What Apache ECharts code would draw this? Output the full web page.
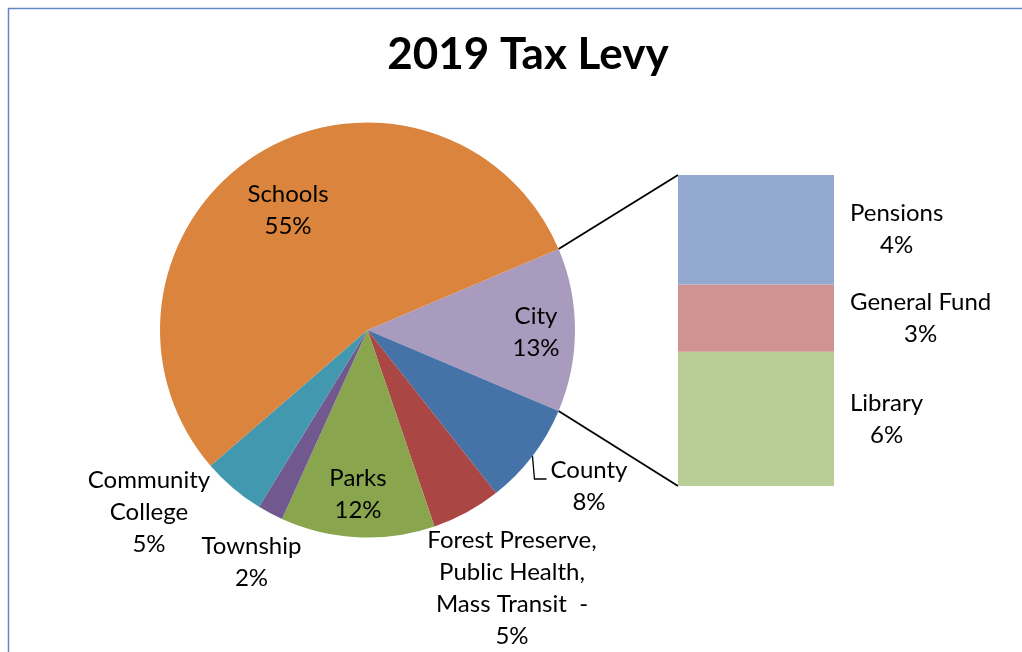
<!DOCTYPE html>
<html>
<head>
<meta charset="utf-8">
<script src="https://cdn.jsdelivr.net/npm/echarts@6/dist/echarts.min.js"></script>
<style>
html,body{margin:0;padding:0;background:#fff;}
#c{width:1022px;height:652px;}
</style>
</head>
<body>
<div id="c"></div>
<script>
// ---------- data ----------
const titleText = '2019 Tax Levy';
const cityName = 'City';
const pieCategories = ['County', 'Forest Preserve,\nPublic Health,\nMass Transit  -', 'Parks', 'Township', 'Community\nCollege', 'Schools'];
const pieValues = [8.0, 5.4, 12.0, 2.0, 4.9, 55.0];
const breakdownNames = ['Pensions', 'General Fund', 'Library'];
const breakdownValues = [4.49, 2.76, 5.51];

// ---------- styles ----------
const FONT = 'Lato';
const cityColor = '#A99BBD';
const pieColors = ['#4572A7', '#AA4643', '#89A54E', '#71588F', '#4198AF', '#DB843D'];
const breakdownColors = ['#93A9CF', '#D19392', '#B9CD96'];
const LABEL_SIZE = 24;
const LINE_H = 32;

// ---------- layout ----------
const cx = 367.5, cy = 330, R = 207.5;
const gridLeft = 678, gridTop = 175, gridWidth = 156, gridHeight = 311;
// label block centres relative to pie centre (City, County, Forest, Parks, Township, CC, Schools)
const labelOffsets = [[168.5, 2], [221.5, 156], [144.5, 258.5], [-9.5, 164], [-116, 232.5], [-218.5, 182], [-79.5, -120]];

const sum = a => a.reduce((s, v) => s + v, 0);
const cityValue = sum(breakdownValues);
const total = cityValue + sum(pieValues);
const pct = v => Math.round(v / total * 100) + '%';

const ctx = document.createElement('canvas').getContext('2d');
function textW(str, size) {
  ctx.font = size + 'px ' + FONT;
  return Math.max(...str.split('\n').map(s => ctx.measureText(s).width));
}

const pieData = [{ name: cityName, value: cityValue, itemStyle: { color: cityColor } }]
  .concat(pieCategories.map((n, i) => ({ name: n, value: pieValues[i], itemStyle: { color: pieColors[i] } })));

const halfCity = cityValue / total * 180; // degrees

const barSeries = [];
for (let i = breakdownNames.length - 1; i >= 0; i--) {
  barSeries.push({
    type: 'bar',
    name: breakdownNames[i],
    stack: 'b',
    xAxisIndex: 0, yAxisIndex: 0,
    barWidth: '100%',
    data: [breakdownValues[i]],
    itemStyle: { color: breakdownColors[i] },
    silent: true,
    label: {
      show: true,
      position: 'right',
      distance: textW(breakdownNames[i], LABEL_SIZE) / 2 + 16,
      align: 'center',
      verticalAlign: 'middle',
      formatter: p => p.seriesName + '\n' + pct(p.value),
      color: '#000',
      fontFamily: FONT,
      fontSize: LABEL_SIZE,
      lineHeight: LINE_H
    }
  });
}

const chart = echarts.init(document.getElementById('c'), null, { renderer: 'canvas' });
chart.setOption({
  animation: false,
  backgroundColor: '#fff',
  title: {
    text: titleText,
    left: 523,
    top: 28,
    textAlign: 'center',
    textStyle: { fontFamily: FONT, fontWeight: 'bold', fontSize: 44, color: '#000' }
  },
  grid: { left: gridLeft, top: gridTop, width: gridWidth, height: gridHeight },
  xAxis: { type: 'category', data: [''], show: false },
  yAxis: { type: 'value', min: 0, max: cityValue, show: false },
  series: [{
    type: 'pie',
    center: [cx, cy],
    radius: R,
    startAngle: halfCity,
    clockwise: true,
    avoidLabelOverlap: false,
    silent: true,
    emphasis: { disabled: true },
    data: pieData,
    label: {
      show: true,
      position: 'inside',
      formatter: p => p.name + '\n' + pct(p.value),
      color: '#000',
      fontFamily: FONT,
      fontSize: LABEL_SIZE,
      lineHeight: LINE_H,
      align: 'center',
      verticalAlign: 'middle'
    },
    labelLine: { show: false },
    labelLayout: function (params) {
      const o = labelOffsets[params.dataIndex];
      return { x: cx + o[0], y: cy + o[1], align: 'center', verticalAlign: 'middle' };
    }
  }].concat(barSeries)
});

// connector lines (computed from pie geometry and bar axis)
const h = halfCity * Math.PI / 180;
const pTop = [cx + R * Math.cos(h), cy - R * Math.sin(h)];
const pBot = [cx + R * Math.cos(h), cy + R * Math.sin(h)];
const barTopY = chart.convertToPixel({ yAxisIndex: 0 }, cityValue);
const barBotY = chart.convertToPixel({ yAxisIndex: 0 }, 0);
const barCx = chart.convertToPixel({ xAxisIndex: 0 }, 0);
const barLeft = barCx - gridWidth / 2;

// County leader line
const countyMid = (halfCity + pieValues[0] / total * 180) * Math.PI / 180;
const e = [cx + R * Math.cos(countyMid), cy + R * Math.sin(countyMid)];
const cLab = [cx + labelOffsets[1][0], cy + labelOffsets[1][1]];
const baseY = cLab[1] - LINE_H / 2 + 9;
const labLeft = cLab[0] - textW('County', LABEL_SIZE) / 2;

chart.setOption({
  graphic: [
    { type: 'rect', silent: true, shape: { x: 8.5, y: 8.5, width: 1200, height: 1000 }, style: { fill: 'none', stroke: '#5F88C4', lineWidth: 1.5 } },
    { type: 'polyline', silent: true, shape: { points: [pTop, [barLeft, barTopY]] }, style: { stroke: '#000', lineWidth: 1.8, fill: 'none' } },
    { type: 'polyline', silent: true, shape: { points: [pBot, [barLeft, barBotY]] }, style: { stroke: '#000', lineWidth: 1.8, fill: 'none' } },
    { type: 'polyline', silent: true, shape: { points: [e, [e[0] + 2, baseY], [labLeft - 4, baseY]] }, style: { stroke: '#000', lineWidth: 1.3, fill: 'none' } }
  ]
});
</script>
</body>
</html>
